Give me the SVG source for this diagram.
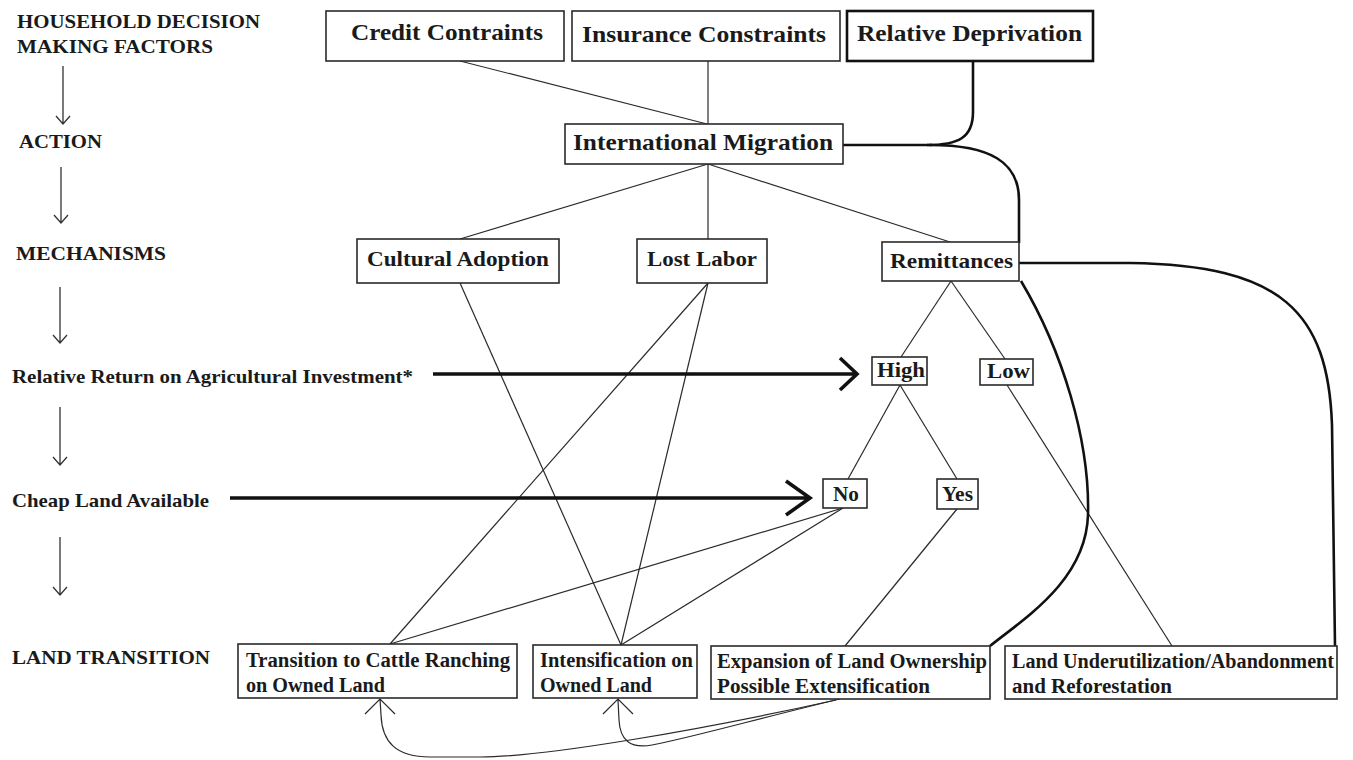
<svg xmlns="http://www.w3.org/2000/svg" width="1353" height="760" viewBox="0 0 1353 760">
<style>
  .bg { fill: #ffffff; }
  .box { fill: #ffffff; stroke: #2a2a2a; stroke-width: 1.6; }
  .boxb { fill: #ffffff; stroke: #111111; stroke-width: 2.6; }
  text { font-family: "Liberation Serif", "Times New Roman", serif; font-weight: bold; fill: #1a1a1a; }
  .t23 { font-size: 23px; }
  .t21 { font-size: 21px; }
  .t20 { font-size: 20px; }
  .lab { font-size: 19.5px; }
  .thin { fill: none; stroke: #2a2a2a; stroke-width: 1.2; }
  .thick { fill: none; stroke: #111111; stroke-width: 2.6; }
  .heavy { fill: none; stroke: #111111; stroke-width: 3.6; }
  .step { fill: none; stroke: #333333; stroke-width: 1.3; }
</style>
<rect class="bg" x="0" y="0" width="1353" height="760"/>

<g id="left-labels">
  <text class="lab" x="17" y="28" textLength="243" lengthAdjust="spacingAndGlyphs">HOUSEHOLD DECISION</text>
  <text class="lab" x="17" y="53" textLength="196" lengthAdjust="spacingAndGlyphs">MAKING FACTORS</text>
  <text class="lab" x="19" y="148" textLength="83" lengthAdjust="spacingAndGlyphs">ACTION</text>
  <text class="lab" x="16" y="260" textLength="150" lengthAdjust="spacingAndGlyphs">MECHANISMS</text>
  <text class="lab" x="12" y="383" textLength="401" lengthAdjust="spacingAndGlyphs">Relative Return on Agricultural Investment*</text>
  <text class="lab" x="12" y="507" textLength="197" lengthAdjust="spacingAndGlyphs">Cheap Land Available</text>
  <text class="lab" x="12" y="664" textLength="198" lengthAdjust="spacingAndGlyphs">LAND TRANSITION</text>
  <path class="step" d="M63,66 L63,124 M56,116 L63,124 L70,116"/>
  <path class="step" d="M61,167 L61,223 M54,215 L61,223 L68,215"/>
  <path class="step" d="M60,287 L60,343 M53,335 L60,343 L67,335"/>
  <path class="step" d="M60,407 L60,465 M53,457 L60,465 L67,457"/>
  <path class="step" d="M60,537 L60,595 M53,587 L60,595 L67,587"/>
</g>

<g id="connectors">
  <path class="thin" d="M460,61 L707,124"/>
  <path class="thin" d="M708,61 L708,124"/>
  <path class="thin" d="M708,164 L460,239"/>
  <path class="thin" d="M708,164 L708,239"/>
  <path class="thin" d="M708,164 L950,242"/>
  <path class="thin" d="M951,281 L901,357"/>
  <path class="thin" d="M951,281 L1005,359"/>
  <path class="thin" d="M900,385 L848,479"/>
  <path class="thin" d="M900,385 L957,479"/>
  <path class="thin" d="M1007,385 L1172,646"/>
  <path class="thin" d="M957,509 L845,646"/>
  <path class="thin" d="M843,508 L390,644"/>
  <path class="thin" d="M843,508 L621,645"/>
  <path class="thin" d="M460,283 L621,645"/>
  <path class="thin" d="M708,283 L390,644"/>
  <path class="thin" d="M708,283 L621,645"/>
  <path class="thick" d="M973,61 L973,112 C973,138 958,145 927,145"/>
  <path class="thick" d="M843,145 L932,145"/>
  <path class="thick" d="M930,145 C990,145 1019,162 1019,200 L1019,243"/>
  <path class="thick" d="M1019,263 L1130,263 C1282,265 1328,312 1332,425 L1335,646"/>
  <path class="thick" d="M1021,281 C1062,350 1090,440 1088,515 C1086,580 1025,618 990,646"/>
  <path class="heavy" d="M433,374 L855,374 M840,358 L857,374 L840,390"/>
  <path class="heavy" d="M230,498 L808,498 M786,481 L810,498 L786,515"/>
  <path class="thin" d="M840,699 C760,718 690,738 652,745 C630,749 620,740 619,720 L618,700 M603,714 L618,699 L633,714"/>
  <path class="thin" d="M836,700 C700,730 545,757 480,757 L430,757 C396,757 382,742 381,715 L380,699 M365,714 L380,699 L395,714"/>
</g>

<g id="credit"><rect class="box" x="326" y="11" width="238" height="50"/><text class="t23" x="351" y="40" textLength="192" lengthAdjust="spacingAndGlyphs">Credit Contraints</text></g>
<g id="insurance"><rect class="box" x="572" y="11" width="268" height="50"/><text class="t23" x="582" y="42" textLength="244" lengthAdjust="spacingAndGlyphs">Insurance Constraints</text></g>
<g id="deprivation"><rect class="boxb" x="847" y="11" width="246" height="50"/><text class="t23" x="857" y="41" textLength="225" lengthAdjust="spacingAndGlyphs">Relative Deprivation</text></g>
<g id="migration"><rect class="box" x="565" y="124" width="278" height="40"/><text class="t23" x="573" y="150" textLength="260" lengthAdjust="spacingAndGlyphs">International Migration</text></g>
<g id="cultural"><rect class="box" x="357" y="239" width="202" height="44"/><text class="t21" x="367" y="266" textLength="182" lengthAdjust="spacingAndGlyphs">Cultural Adoption</text></g>
<g id="lostlabor"><rect class="box" x="637" y="239" width="130" height="44"/><text class="t21" x="647" y="266" textLength="110" lengthAdjust="spacingAndGlyphs">Lost Labor</text></g>
<g id="remittances"><rect class="box" x="882" y="242" width="137" height="39"/><text class="t21" x="890" y="268" textLength="123" lengthAdjust="spacingAndGlyphs">Remittances</text></g>
<g id="high"><rect class="box" x="872" y="357" width="55" height="28"/><text class="t20" x="877" y="377" textLength="48" lengthAdjust="spacingAndGlyphs">High</text></g>
<g id="low"><rect class="box" x="980" y="359" width="53" height="26"/><text class="t20" x="987" y="378" textLength="43" lengthAdjust="spacingAndGlyphs">Low</text></g>
<g id="no"><rect class="box" x="823" y="479" width="44" height="29"/><text class="t20" x="833" y="501" textLength="26" lengthAdjust="spacingAndGlyphs">No</text></g>
<g id="yes"><rect class="box" x="937" y="479" width="41" height="30"/><text class="t20" x="942" y="501" textLength="31" lengthAdjust="spacingAndGlyphs">Yes</text></g>
<g id="cattle"><rect class="box" x="238" y="644" width="279" height="54"/><text class="t20" x="246" y="667" textLength="264" lengthAdjust="spacingAndGlyphs">Transition to Cattle Ranching</text><text class="t20" x="246" y="692" textLength="139" lengthAdjust="spacingAndGlyphs">on Owned Land</text></g>
<g id="intensification"><rect class="box" x="533" y="645" width="164" height="53"/><text class="t20" x="540" y="667" textLength="153" lengthAdjust="spacingAndGlyphs">Intensification on</text><text class="t20" x="540" y="692" textLength="112" lengthAdjust="spacingAndGlyphs">Owned Land</text></g>
<g id="expansion"><rect class="box" x="711" y="646" width="279" height="53"/><text class="t20" x="717" y="668" textLength="270" lengthAdjust="spacingAndGlyphs">Expansion of Land Ownership</text><text class="t20" x="717" y="693" textLength="213" lengthAdjust="spacingAndGlyphs">Possible Extensification</text></g>
<g id="underutilization"><rect class="box" x="1005" y="646" width="332" height="53"/><text class="t20" x="1012" y="668" textLength="322" lengthAdjust="spacingAndGlyphs">Land Underutilization/Abandonment</text><text class="t20" x="1012" y="693" textLength="160" lengthAdjust="spacingAndGlyphs">and Reforestation</text></g>
</svg>
